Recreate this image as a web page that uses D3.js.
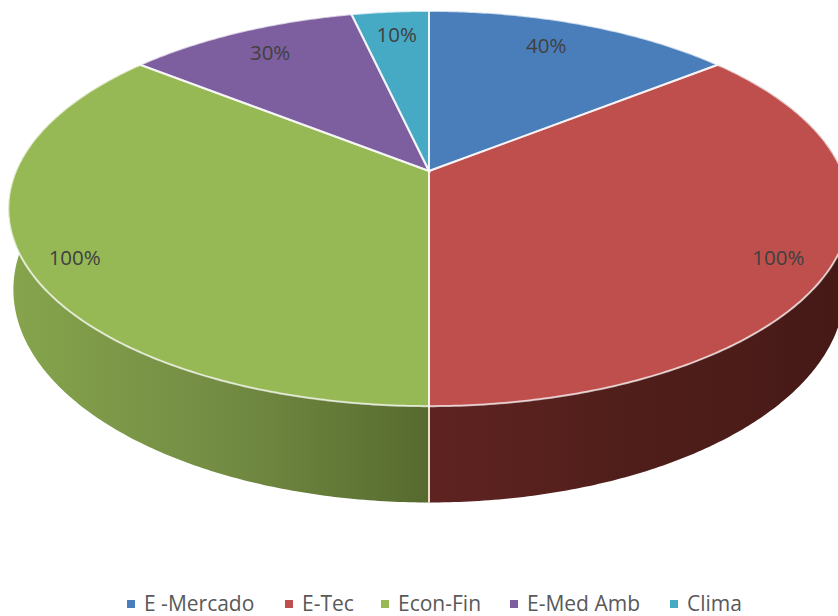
<!DOCTYPE html>
<html>
<head>
<meta charset="utf-8">
<script src="https://cdn.jsdelivr.net/npm/d3@7"></script>
<style>
  html, body { margin: 0; padding: 0; background: #fff; overflow: hidden; }
  text { font-family: "Open Sans", sans-serif; }
</style>
</head>
<body>
<div id="chart"></div>
<script>
const categories = ['E -Mercado', 'E-Tec', 'Econ-Fin', 'E-Med Amb', 'Clima'];
const values = [40, 100, 100, 30, 10];
const labels = ['40%', '100%', '100%', '30%', '10%'];
const colors = ['#4a7ebb', '#be4f4c', '#96b956', '#7d5fa0', '#46aac5'];

// ========= Layout =========
const width = 838, height = 616;
const apexX = 429, apexY = 171;
const radiusX = 413;
const persp = 0.19;         // foreshortening of the far side
const tilt = -158;
const depth = 78;
const wallShrink = 0.012;   // lower rim sits further away, so a bit narrower
const labelRadius = [0.83, 0.97, 0.97, 0.83, 0.83];
const labelNudge = [-13, -43, 38, 2, 1];
const legendX = [127, 285, 381, 510, 670];
const legendY = 604;

const svg = d3.select('#chart').append('svg')
  .attr('width', width)
  .attr('height', height);

// ground plane point -> screen, r is radius fraction, z pushes down the wall
function project(angle, r, z) {
  const gx = Math.sin(angle) * r, gy = Math.cos(angle) * r;
  const w = 1 + persp * gy;
  return [apexX + radiusX * (1 - wallShrink * z) * gx / w, (tilt * gy + apexY + z * depth) / w];
}

const pie = d3.pie().sort(null).value(d => d);
const arcs = pie(values);
const line = d3.line();

function rim(a0, a1, z) {
  const n = Math.max(2, Math.ceil((a1 - a0) / 0.01));
  return d3.range(n + 1).map(i => project(a0 + (a1 - a0) * i / n, 1, z));
}

// ============= Wall =============
const defs = svg.append('defs');
const wallStops = [
  {id: 'wall-green', x1: 14, x2: 429, stops: ['#86a44c', '#7c9848', '#738c43', '#657c39', '#566a2e']},
  {id: 'wall-red', x1: 429, x2: 838, stops: ['#5e2321', '#58211e', '#4f1e1a', '#4c1c19', '#451916']}
];
wallStops.forEach(w => {
  const g = defs.append('linearGradient')
    .attr('id', w.id)
    .attr('gradientUnits', 'userSpaceOnUse')
    .attr('x1', w.x1).attr('x2', w.x2)
    .attr('y1', 0).attr('y2', 0);
  g.selectAll('stop').data(w.stops).enter().append('stop')
    .attr('offset', (d, i) => i / (w.stops.length - 1))
    .attr('stop-color', d => d);
});

const frontSlices = [{arc: arcs[1], fill: 'url(#wall-red)'}, {arc: arcs[2], fill: 'url(#wall-green)'}];
svg.selectAll('.wall').data(frontSlices).enter().append('path')
  .attr('class', 'wall')
  .attr('fill', d => d.fill)
  .attr('d', d => {
    const top = rim(d.arc.startAngle, d.arc.endAngle, 0);
    const bottom = rim(d.arc.startAngle, d.arc.endAngle, 1).reverse();
    return line(top.concat(bottom)) + 'Z';
  });

// seam between the two walls
const seam = arcs[1].endAngle;
svg.append('path')
  .attr('d', line([project(seam, 1, 0), project(seam, 1, 1)]))
  .attr('stroke', '#eadfc8')
  .attr('stroke-width', 2)
  .attr('fill', 'none');

// ============= Top face =============
svg.selectAll('.slice').data(arcs).enter().append('path')
  .attr('class', 'slice')
  .attr('fill', (d, i) => colors[i])
  .attr('d', d => line([project(0, 0, 0)].concat(rim(d.startAngle, d.endAngle, 0))) + 'Z');

svg.selectAll('.edge').data(arcs).enter().append('path')
  .attr('class', 'edge')
  .attr('fill', 'none')
  .attr('stroke', '#fff')
  .attr('stroke-opacity', 0.7)
  .attr('stroke-width', 2)
  .attr('d', d => line([project(0, 0, 0)].concat(rim(d.startAngle, d.endAngle, 0))) + 'Z');

// ============= Labels =============
svg.selectAll('.label').data(arcs).enter().append('text')
  .attr('class', 'label')
  .attr('text-anchor', 'middle')
  .attr('font-size', 20.5)
  .attr('fill', '#404040')
  .attr('x', (d, i) => project((d.startAngle + d.endAngle) / 2, labelRadius[i], 0)[0] + labelNudge[i])
  .attr('y', (d, i) => project((d.startAngle + d.endAngle) / 2, labelRadius[i], 0)[1] + 7)
  .text((d, i) => labels[i]);

// ============= Legend =============
const legend = svg.selectAll('.legend').data(categories).enter().append('g')
  .attr('class', 'legend')
  .attr('transform', (d, i) => `translate(${legendX[i]},${legendY})`);
legend.append('rect')
  .attr('x', 0).attr('y', -4)
  .attr('width', 8).attr('height', 8)
  .attr('fill', (d, i) => colors[i]);
legend.append('text')
  .attr('x', 17).attr('y', 7)
  .attr('font-size', 21)
  .attr('fill', '#595959')
  .text(d => d);
</script>
</body>
</html>
